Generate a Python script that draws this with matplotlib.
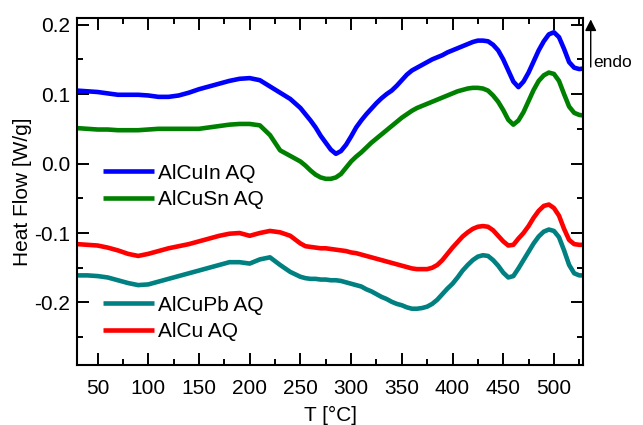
import numpy as np
import matplotlib
matplotlib.use("Agg")
import matplotlib.pyplot as plt
from matplotlib.ticker import MultipleLocator, FormatStrFormatter

plt.rcParams.update({
    "font.family": ["Liberation Sans", "DejaVu Sans"],
    "axes.unicode_minus": False,
})

# temperature grid [°C] shared by all four DSC traces
temp = [30, 40, 50, 60, 70, 80, 90, 100, 110, 120, 130, 140, 150, 160, 170,
        180, 190, 200, 210, 220, 230, 240, 250,
        255, 260, 265, 270, 275, 280, 285, 290, 295, 300, 305, 310, 315, 320,
        325, 330, 335, 340, 345, 350, 355, 360, 365, 370, 375, 380, 385, 390,
        395, 400, 405, 410, 415, 420, 425, 430, 435, 440, 445, 450, 455, 460,
        465, 470, 475, 480, 485, 490, 495, 500, 505, 510, 515, 520, 525, 530]

hf_alcuin = [0.105, 0.104, 0.103, 0.101, 0.099, 0.099, 0.099, 0.098, 0.096,
             0.096, 0.098, 0.102, 0.107, 0.111, 0.115, 0.119, 0.122, 0.123,
             0.120, 0.111, 0.102, 0.093, 0.080,
             0.071, 0.062, 0.052, 0.040, 0.030, 0.020, 0.014, 0.018, 0.027,
             0.039, 0.052, 0.062, 0.071, 0.079, 0.087, 0.094, 0.100, 0.105,
             0.112, 0.120, 0.128, 0.134, 0.138, 0.142, 0.146, 0.150, 0.153,
             0.156, 0.160, 0.163, 0.166, 0.169, 0.172, 0.175, 0.177, 0.177,
             0.176, 0.171, 0.163, 0.150, 0.134, 0.118, 0.110, 0.118, 0.131,
             0.147, 0.163, 0.176, 0.186, 0.189, 0.182, 0.165, 0.146, 0.138,
             0.136, 0.137]

hf_alcusn = [0.051, 0.050, 0.049, 0.049, 0.048, 0.048, 0.048, 0.049, 0.050,
             0.050, 0.050, 0.050, 0.050, 0.052, 0.054, 0.056, 0.057, 0.057,
             0.055, 0.041, 0.019, 0.011, 0.003,
             -0.003, -0.010, -0.016, -0.020, -0.022, -0.022, -0.020, -0.015,
             -0.006, 0.003, 0.010, 0.016, 0.023, 0.030, 0.036, 0.042, 0.048,
             0.054, 0.060, 0.066, 0.071, 0.076, 0.080, 0.083, 0.086, 0.089,
             0.092, 0.095, 0.098, 0.101, 0.104, 0.106, 0.108, 0.109, 0.109,
             0.108, 0.105, 0.098, 0.089, 0.077, 0.063, 0.056, 0.062, 0.074,
             0.090, 0.106, 0.119, 0.127, 0.131, 0.129, 0.119, 0.100, 0.082,
             0.073, 0.070, 0.069]

hf_alcupb = [-0.161, -0.161, -0.162, -0.164, -0.168, -0.172, -0.175, -0.174,
             -0.170, -0.166, -0.162, -0.158, -0.154, -0.150, -0.146, -0.142,
             -0.142, -0.144, -0.138, -0.135, -0.146, -0.156, -0.163,
             -0.165, -0.166, -0.166, -0.167, -0.167, -0.168, -0.168, -0.169,
             -0.171, -0.173, -0.175, -0.177, -0.181, -0.184, -0.188, -0.192,
             -0.195, -0.199, -0.202, -0.204, -0.207, -0.209, -0.209, -0.208,
             -0.206, -0.202, -0.196, -0.188, -0.180, -0.173, -0.164, -0.154,
             -0.146, -0.139, -0.134, -0.132, -0.133, -0.139, -0.147, -0.157,
             -0.164, -0.162, -0.151, -0.139, -0.127, -0.115, -0.105, -0.098,
             -0.095, -0.097, -0.106, -0.125, -0.146, -0.158, -0.161, -0.161]

hf_alcu = [-0.116, -0.117, -0.118, -0.121, -0.125, -0.130, -0.133, -0.130,
           -0.126, -0.122, -0.119, -0.116, -0.112, -0.108, -0.104, -0.101,
           -0.100, -0.104, -0.100, -0.097, -0.099, -0.104, -0.115,
           -0.119, -0.120, -0.121, -0.122, -0.122, -0.123, -0.124, -0.125,
           -0.126, -0.128, -0.129, -0.131, -0.133, -0.135, -0.137, -0.139,
           -0.141, -0.143, -0.145, -0.147, -0.149, -0.151, -0.152, -0.152,
           -0.152, -0.150, -0.146, -0.139, -0.130, -0.121, -0.113, -0.105,
           -0.099, -0.094, -0.091, -0.090, -0.091, -0.096, -0.104, -0.112,
           -0.118, -0.117, -0.108, -0.100, -0.090, -0.078, -0.068, -0.061,
           -0.059, -0.064, -0.075, -0.094, -0.110, -0.116, -0.117, -0.117]

labels = ["AlCuIn AQ", "AlCuSn AQ", "AlCuPb AQ", "AlCu AQ"]
colors = ["#0000FF", "#008000", "#008080", "#FF0000"]

fig = plt.figure(figsize=(6.43, 4.25), dpi=100)
ax = fig.add_axes([0.1202, 0.1412, 0.7870, 0.8172])

lines = []
for hf, lab, col in zip([hf_alcuin, hf_alcusn, hf_alcupb, hf_alcu], labels, colors):
    ln, = ax.plot(temp, hf, color=col, lw=3.3, label=lab,
                  solid_joinstyle="round", solid_capstyle="butt")
    lines.append(ln)

ax.set_xlim(30, 529)
ax.set_ylim(-0.29, 0.21)

ax.xaxis.set_major_locator(MultipleLocator(50))
ax.xaxis.set_minor_locator(MultipleLocator(25))
ax.yaxis.set_major_locator(MultipleLocator(0.1))
ax.yaxis.set_minor_locator(MultipleLocator(0.05))
ax.yaxis.set_major_formatter(FormatStrFormatter("%.1f"))

ax.tick_params(which="both", direction="in", top=True, right=True,
               width=1.4, labelsize=15)
ax.tick_params(which="major", length=8.6)
ax.tick_params(which="minor", length=4.3)
ax.tick_params(axis="x", pad=10)
ax.tick_params(axis="y", pad=5)
for sp in ax.spines.values():
    sp.set_linewidth(1.5)

ax.set_xlabel("T [°C]", fontsize=15, labelpad=6)
ax.set_ylabel("Heat Flow [W/g]", fontsize=15)
ax.yaxis.set_label_coords(-0.09, 0.5)

leg_kw = dict(frameon=False, fontsize=15, handlelength=2.45,
              handletextpad=0.2, labelspacing=0.37, borderpad=0,
              borderaxespad=0, loc="center left")
leg1 = ax.legend(handles=lines[:2], bbox_to_anchor=(0.051, 0.514), **leg_kw)
ax.add_artist(leg1)
ax.legend(handles=lines[2:], bbox_to_anchor=(0.051, 0.134), **leg_kw)

# endothermic direction marker outside the right spine
ax.annotate("", xy=(1.0146, 0.995), xytext=(1.0146, 0.858),
            xycoords="axes fraction", annotation_clip=False,
            arrowprops=dict(arrowstyle="-|>", color="black", lw=1.0,
                            mutation_scale=17, shrinkA=0, shrinkB=0))
ax.text(1.019, 0.872, "endo", transform=ax.transAxes, fontsize=12.5,
        ha="left", va="center")

fig.savefig("out.png", dpi=100)
